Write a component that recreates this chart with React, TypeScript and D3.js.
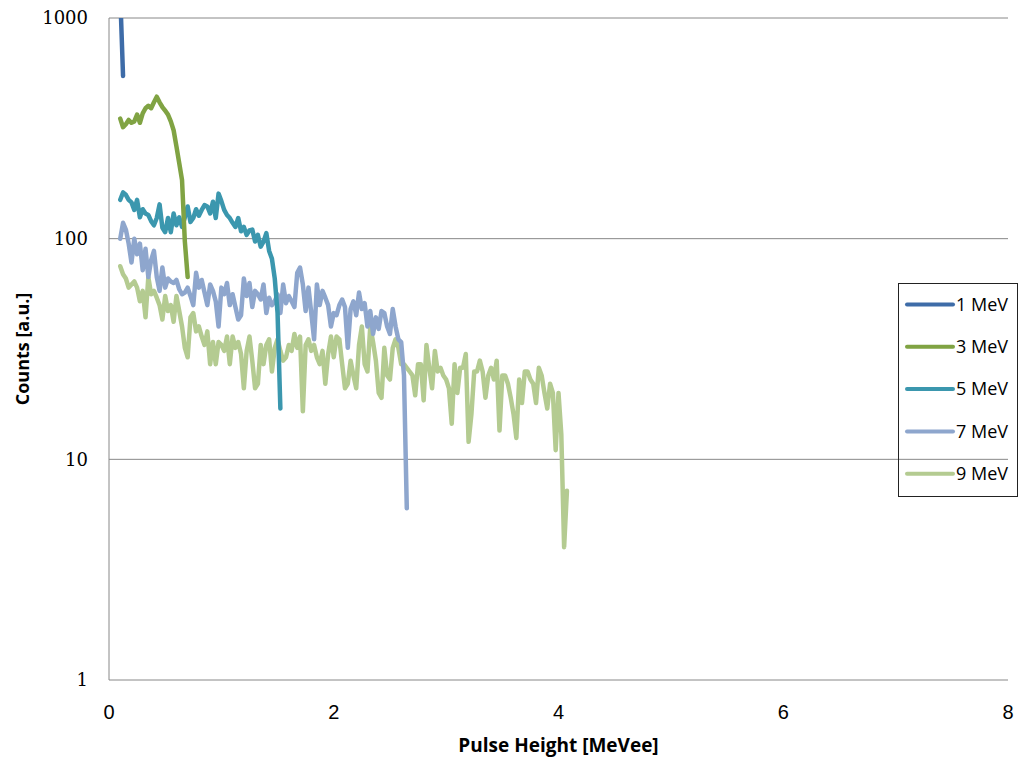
import React, { useEffect, useRef } from 'react';
import * as d3 from 'd3';

// pulse height spectra, counts per bin (bins start at 0.1 MeVee, 0.025 wide)
const binStart = 0.1;
const binWidth = 0.025;

const mev1 = [1270, 546];
const mev3 = [350, 320, 330, 345, 335, 340, 365, 335, 370, 390, 400, 390, 415, 440, 415, 395, 380, 365, 340, 310, 262, 220, 184, 97, 67];
const mev5 = [150, 162, 158, 150, 146, 135, 150, 125, 136, 130,
    128, 120, 115, 124, 143, 112, 107, 124, 107, 130,
    115, 125, 113, 125, 140, 119, 124, 136, 127, 135,
    142, 140, 130, 147, 124, 160, 148, 135, 128, 124,
    118, 113, 124, 108, 113, 104, 109, 110, 97, 104,
    92, 97, 106, 88, 81, 66, 46, 17];
const mev7 = [100, 118, 110, 95, 78, 100, 85, 95, 72, 90,
    67, 80, 88, 67, 58, 74, 60, 66, 64, 63,
    65, 59, 56, 57, 60, 55, 50, 70, 60, 65,
    57, 50, 62, 58, 52, 40, 60, 56, 63, 50,
    56, 49, 43, 45, 66, 55, 63, 49, 58, 56,
    53, 62, 46, 54, 50, 52, 56, 46, 62, 51,
    55, 52, 49, 70, 74, 62, 47, 60, 46, 35,
    62, 50, 58, 54, 50, 40, 46, 45, 50, 53,
    49, 32, 48, 52, 45, 57, 48, 51, 40, 47,
    37, 44, 39, 47, 46, 40, 37, 48, 40, 35,
    34, 24, 6];
const mev9 = [75, 69, 66, 60, 62, 64, 60, 52, 58, 44,
    67, 56, 58, 54, 50, 43, 55, 47, 50, 42,
    55, 47, 40, 32, 29, 44, 46, 38, 40, 36,
    33, 38, 27, 34, 27, 34, 33, 31, 36, 27,
    36, 32, 34, 30, 21, 31, 36, 28, 21, 22,
    33, 27, 33, 35, 25, 32, 35, 31, 28, 29,
    33, 31, 37, 32, 36, 16.5, 33, 35, 31, 33,
    29, 27, 31, 22, 30, 36, 29, 36, 35, 27,
    21, 22, 28, 24, 21, 33, 40, 27, 25, 40,
    34, 28, 20, 19, 32, 24, 23, 32, 35, 32,
    27, 27, 26, 25, 24, 19.5, 27, 27, 18.5, 33,
    26, 21, 31, 25, 26, 24, 23, 21, 14.5, 27,
    20, 26, 26, 30, 12, 16, 25, 25, 28, 25,
    19, 24, 26, 23, 28, 13.5, 24, 24, 22, 19,
    16, 12.5, 23, 18, 25, 25, 23, 22, 18, 26,
    24, 20, 17, 22, 20, 11, 20, 13, 4, 7.2];

const seriesNames = ['1 MeV', '3 MeV', '5 MeV', '7 MeV', '9 MeV'];
const seriesValues = [mev1, mev3, mev5, mev7, mev9];
const seriesColors = ['#3e6ca8', '#80a343', '#3b97ae', '#8ea6cd', '#b4cb91'];

const xTicks = [0, 2, 4, 6, 8];
const yTicks = [1, 10, 100, 1000];

export default function App() {
    const ref = useRef<SVGGElement>(null);
    const width = 1028, height = 763;
    const margin = {top: 18, right: 20, bottom: 83, left: 109};

    useEffect(() => {
        const g = d3.select(ref.current);
        g.selectAll('*').remove();

        const x = d3.scaleLinear().domain([0, 8]).range([margin.left, width - margin.right]);
        const y = d3.scaleLog().domain([1, 1000]).range([height - margin.bottom, margin.top]);

        g.append('clipPath').attr('id', 'plotClip')
            .append('rect')
            .attr('x', x(0)).attr('y', y(1000))
            .attr('width', x(8) - x(0)).attr('height', y(1) - y(1000));

        // gridlines
        g.append('g').selectAll('line')
            .data(yTicks.slice(1))
            .enter().append('line')
            .attr('x1', x(0)).attr('x2', x(8))
            .attr('y1', d => y(d)).attr('y2', d => y(d))
            .attr('stroke', '#888').attr('stroke-width', 1);

        // axes lines
        g.append('line').attr('x1', x(0)).attr('x2', x(0)).attr('y1', y(1000)).attr('y2', y(1))
            .attr('stroke', '#888');
        g.append('line').attr('x1', x(0)).attr('x2', x(8)).attr('y1', y(1)).attr('y2', y(1))
            .attr('stroke', '#888');

        // tick labels
        g.append('g').selectAll('text')
            .data(yTicks)
            .enter().append('text')
            .attr('x', x(0) - 21).attr('y', d => y(d))
            .attr('dy', '0.35em')
            .attr('text-anchor', 'end')
            .style('font-family', "'DejaVu Serif', 'Liberation Serif', serif")
            .style('font-size', '18px')
            .attr('fill', '#000')
            .text(d => d);

        g.append('g').selectAll('text')
            .data(xTicks)
            .enter().append('text')
            .attr('x', d => x(d)).attr('y', y(1) + 39)
            .attr('text-anchor', 'middle')
            .style('font-family', "'Liberation Sans Narrow', 'Liberation Sans', sans-serif")
            .style('font-size', '20px')
            .attr('fill', '#000')
            .text(d => d);

        // axis titles
        g.append('text')
            .attr('x', (x(0) + x(8)) / 2).attr('y', 752)
            .attr('text-anchor', 'middle')
            .style('font-family', "'Open Sans', 'Liberation Sans', sans-serif")
            .style('font-weight', 'bold').style('font-size', '19px')
            .text('Pulse Height [MeVee]');
        g.append('text')
            .attr('transform', `translate(29, ${(y(1) + y(1000)) / 2}) rotate(-90)`)
            .attr('text-anchor', 'middle')
            .style('font-family', "'Open Sans', 'Liberation Sans', sans-serif")
            .style('font-weight', 'bold').style('font-size', '18px')
            .text('Counts [a.u.]');

        // spectra, drawn last series first so the first one sits on top
        const line = d3.line<number>()
            .x((d, i) => x(binStart + i * binWidth))
            .y(d => y(d));

        const order = d3.range(seriesValues.length).reverse();
        g.append('g').attr('clip-path', 'url(#plotClip)')
            .selectAll('path')
            .data(order)
            .enter().append('path')
            .attr('d', i => line(seriesValues[i]))
            .attr('fill', 'none')
            .attr('stroke', i => seriesColors[i])
            .attr('stroke-width', 4.5)
            .attr('stroke-linejoin', 'round')
            .attr('stroke-linecap', 'round');

        // legend
        const legend = g.append('g').attr('transform', 'translate(898, 283)');
        legend.append('rect')
            .attr('x', 0.5).attr('y', 0.5).attr('width', 119).attr('height', 213)
            .attr('fill', 'none').attr('stroke', '#222').attr('stroke-width', 1);
        const items = legend.selectAll('g.item')
            .data(seriesNames)
            .enter().append('g')
            .attr('class', 'item')
            .attr('transform', (d, i) => `translate(0, ${21.5 + i * 42.3})`);
        items.append('line')
            .attr('x1', 9).attr('x2', 55).attr('y1', 0).attr('y2', 0)
            .attr('stroke', (d, i) => seriesColors[i])
            .attr('stroke-width', 4).attr('stroke-linecap', 'round');
        items.append('text')
            .attr('x', 58).attr('y', 0).attr('dy', '0.35em')
            .style('font-family', "'Open Sans', 'Liberation Sans', sans-serif")
            .style('font-size', '18px')
            .text(d => d);
    }, []);

    return <svg width={width} height={height} style={{position: 'absolute', left: 0, top: 0, background: '#fff'}}>
        <g ref={ref}></g>
    </svg>;
}
